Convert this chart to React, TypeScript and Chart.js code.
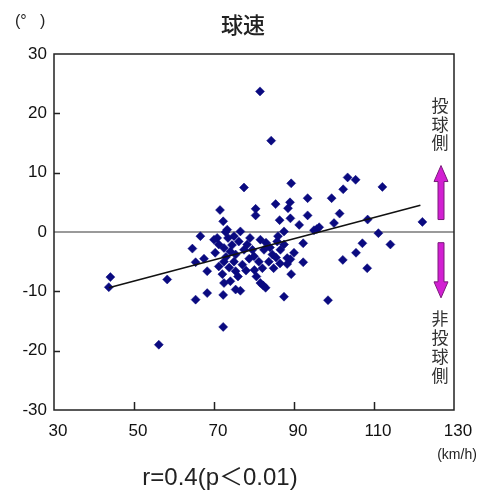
import React, { useEffect, useRef } from "react";
import { Chart, registerables } from "chart.js";
Chart.register(...registerables);

// ---- data ----
const speedKmh = [
  81.5, 84.3, 77.5, 89.3, 103.4, 105.4, 112.1, 102.3, 93.4, 99.4,
  85.4, 89.0, 88.5, 71.5, 80.4, 80.4, 86.4, 89.1, 93.4, 101.4,
  91.3, 72.3, 100.0, 108.4, 122.1, 95.7, 111.1, 73.3, 76.6, 87.5,
  66.6, 70.8, 64.6, 65.4, 67.5, 68.3, 65.4, 68.3, 72.3, 72.1,
  72.5, 74.1, 75.4, 76.6, 75.4, 71.2, 72.5, 70.0, 71.2, 72.5,
  74.1, 75.4, 75.0, 77.1, 76.2, 78.3, 79.6, 80.0, 81.6, 82.5,
  81.2, 82.1, 83.7, 84.6, 85.8, 86.6, 87.5, 84.9, 81.6, 82.9,
  87.5, 88.3, 92.3, 90.0, 89.1, 88.3, 92.3, 89.3, 107.1, 114.1,
  105.5, 102.2, 108.3, 98.5, 72.3, 44.1, 43.7, 58.3, 56.2, 80.1,
  72.9, 75.0, 86.0, 82.3, 95.0, 96.3,
  73.5, 74.5, 77.5, 78.8, 76.0, 73.8, 79.0, 83.0, 84.0, 85.5,
  80.6, 70.3, 73.0, 78.0, 86.5,
];
const angleDeg = [
  23.7, 15.4, 7.5, 8.2, 9.2, 8.8, 7.6, 7.2, 5.7, 5.7,
  4.7, 5.0, 4.0, 3.7, 3.9, 2.8, 2.0, 2.3, 2.8, 3.1,
  1.2, 1.8, 1.5, 2.1, 1.7, 0.5, -0.2, 0.4, 0.1, 0.1,
  -0.7, -1.0, -2.8, -5.1, -4.5, -6.6, -11.4, -10.3, -10.6, -7.1,
  -8.6, -8.3, -9.7, -9.9, -6.6, -5.8, -5.0, -1.3, -2.1, -2.7,
  -3.3, -3.8, -5.0, -5.5, -1.6, -2.1, -3.0, -4.1, -1.3, -3.0,
  -5.0, -6.1, -5.0, -3.8, -1.6, -3.0, -2.1, -6.1, -8.6, -9.4,
  -10.9, -4.4, -1.9, -3.5, -4.6, -5.4, -5.1, -7.1, -1.9, -2.1,
  -3.5, -4.7, -6.1, -11.5, -16.0, -7.6, -9.3, -8.0, -19.0, -6.4,
  0.0, -0.7, -0.7, -9.0, 0.3, 0.8,
  -1.0, -2.2, -3.0, -4.5, -7.5, -6.0, -1.0, -1.8, -2.6, -4.3,
  -7.5, -3.5, -4.2, -6.5, -5.3,
];
const fitSpeed = [43.7, 121.6];
const fitAngle = [-9.4, 4.5];

const xTickValues = [30, 50, 70, 90, 110, 130];
const yTickValues = [-30, -20, -10, 0, 10, 20, 30];

const titleText = "球速";
const yUnitText = "(°   )";
const xUnitText = "(km/h)";
const statText = "r=0.4(p＜0.01)";
const upLabel = "投球側";
const downLabel = "非投球側";

const LATIN = "'Liberation Sans', Arial, sans-serif";
const CJK = "'Noto Sans CJK JP', 'Noto Sans CJK SC', sans-serif";

function drawArrow(ctx: CanvasRenderingContext2D, cx: number, yBase: number, yTip: number) {
  const dir = yTip < yBase ? -1 : 1;
  const headH = 16;
  const headW = 14;
  const shaftW = 6;
  const yNeck = yTip - dir * headH;
  ctx.beginPath();
  ctx.moveTo(cx - shaftW / 2, yBase);
  ctx.lineTo(cx - shaftW / 2, yNeck);
  ctx.lineTo(cx - headW / 2, yNeck);
  ctx.lineTo(cx, yTip);
  ctx.lineTo(cx + headW / 2, yNeck);
  ctx.lineTo(cx + shaftW / 2, yNeck);
  ctx.lineTo(cx + shaftW / 2, yBase);
  ctx.closePath();
  ctx.fillStyle = "#d21fd2";
  ctx.fill();
  ctx.strokeStyle = "#7a1a7a";
  ctx.lineWidth = 1;
  ctx.stroke();
}

const decorPlugin = {
  id: "decor",
  beforeDatasetsDraw(chart: any) {
    const { ctx, chartArea: a, scales } = chart;
    const y0 = scales.y.getPixelForValue(0);
    ctx.save();
    ctx.strokeStyle = "#9a9a9a";
    ctx.lineWidth = 2;
    ctx.beginPath();
    ctx.moveTo(a.left, y0);
    ctx.lineTo(a.right, y0);
    ctx.stroke();
    ctx.restore();
  },
  afterDraw(chart: any) {
    const { ctx, chartArea: a, scales } = chart;
    const xs = scales.x;
    const ys = scales.y;
    ctx.save();
    // frame
    ctx.strokeStyle = "#222";
    ctx.lineWidth = 1.5;
    ctx.strokeRect(a.left, a.top, a.right - a.left, a.bottom - a.top);
    // inner tick marks
    ctx.lineWidth = 1.5;
    ctx.beginPath();
    xTickValues.slice(1, -1).forEach((v) => {
      const px = Math.round(xs.getPixelForValue(v)) + 0.5;
      ctx.moveTo(px, a.bottom);
      ctx.lineTo(px, a.bottom - 8);
    });
    yTickValues.slice(1, -1).forEach((v) => {
      if (v === 0) return;
      const py = Math.round(ys.getPixelForValue(v)) + 0.5;
      ctx.moveTo(a.left, py);
      ctx.lineTo(a.left + 6, py);
    });
    ctx.stroke();

    // title
    ctx.fillStyle = "#222";
    ctx.textAlign = "center";
    ctx.textBaseline = "middle";
    ctx.font = `500 22px ${CJK}`;
    ctx.fillText(titleText, 243, 25);

    // y unit
    ctx.textAlign = "left";
    ctx.font = `16px ${LATIN}`;
    ctx.fillText(yUnitText, 15, 22);

    // x unit
    ctx.textAlign = "center";
    ctx.font = `14px ${LATIN}`;
    ctx.fillText(xUnitText, 457, 455);

    // stat text
    ctx.font = `24px ${LATIN}, ${CJK}`;
    ctx.fillText(statText, 220, 478);

    // side labels & arrows
    const cx = a.right - 13;
    ctx.font = `17px ${CJK}`;
    ctx.fillStyle = "#333";
    const upTop = ys.getPixelForValue(21.3);
    Array.from(upLabel).forEach((ch, i) => ctx.fillText(ch, cx - 1, upTop + i * 18.5));
    const downTop = ys.getPixelForValue(-14.6);
    Array.from(downLabel).forEach((ch, i) => ctx.fillText(ch, cx - 1, downTop + i * 19));

    drawArrow(ctx, cx, ys.getPixelForValue(2.1), ys.getPixelForValue(11.2));
    drawArrow(ctx, cx, ys.getPixelForValue(-1.8), ys.getPixelForValue(-11.1));
    ctx.restore();
  },
};

export default function App() {
  const ref = useRef<HTMLCanvasElement | null>(null);
  useEffect(() => {
    if (!ref.current) return;
    const points = speedKmh.map((s, i) => ({ x: s, y: angleDeg[i] }));
    const fit = fitSpeed.map((s, i) => ({ x: s, y: fitAngle[i] }));
    const chart = new Chart(ref.current, {
      type: "scatter",
      data: {
        datasets: [
          {
            type: "line",
            data: fit,
            borderColor: "#111",
            borderWidth: 1.6,
            pointRadius: 0,
            fill: false,
            order: 0,
          } as any,
          {
            data: points,
            pointStyle: "rectRot",
            pointRadius: 4.5,
            backgroundColor: "#0a0a80",
            borderColor: "#0a0a80",
            borderWidth: 0.5,
            order: 1,
          },
        ],
      },
      options: {
        animation: false,
        responsive: false,
        maintainAspectRatio: false,
        layout: { padding: { top: 54, right: 35, left: 0, bottom: 0 } },
        plugins: { legend: { display: false }, tooltip: { enabled: false }, title: { display: false } },
        scales: {
          x: {
            type: "linear",
            min: 30,
            max: 130,
            afterBuildTicks: (s: any) => {
              s.ticks = xTickValues.map((v) => ({ value: v }));
            },
            afterFit: (s: any) => {
              s.height = 83;
            },
            grid: { display: false, drawTicks: false },
            border: { display: false },
            ticks: {
              padding: 11,
              labelOffset: 4,
              color: "#111",
              font: { family: LATIN, size: 17 },
              maxRotation: 0,
              autoSkip: false,
            },
          },
          y: {
            type: "linear",
            min: -30,
            max: 30,
            afterBuildTicks: (s: any) => {
              s.ticks = yTickValues.map((v) => ({ value: v }));
            },
            afterFit: (s: any) => {
              s.width = 54;
            },
            grid: { display: false, drawTicks: false },
            border: { display: false },
            ticks: {
              padding: 7,
              color: "#111",
              font: { family: LATIN, size: 17 },
              autoSkip: false,
            },
          },
        },
      },
      plugins: [decorPlugin],
    });
    return () => chart.destroy();
  }, []);
  return (
    <div style={{ position: "absolute", left: 0, top: 0, width: 489, height: 493, background: "#fff" }}>
      <canvas ref={ref} width={489} height={493} style={{ width: 489, height: 493, display: "block" }} />
    </div>
  );
}
